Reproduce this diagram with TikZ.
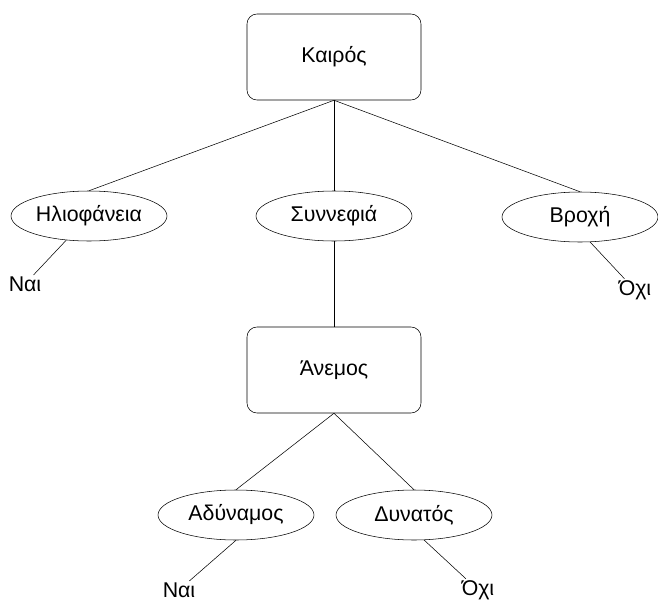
\documentclass[tikz,border=0pt]{standalone}
\usepackage{fontspec}
\setmainfont{Liberation Sans}
\usetikzlibrary{shapes.geometric}

\begin{document}
\begin{tikzpicture}[x=0.75pt, y=-0.75pt,
    every node/.style={font=\fontsize{16}{19}\selectfont},
    rootbox/.style={draw, rounded corners=7.5pt, minimum width=130.5pt,
      minimum height=64.5pt, inner sep=0pt},
    valnode/.style={draw, ellipse, minimum width=117pt,
      minimum height=37.5pt, inner sep=0pt},
    leaf/.style={inner sep=1pt}]
  \useasboundingbox (0,0) rectangle (658,600);

  % top level
  \node[rootbox] (kairos) at (334,57) {Καιρός};
  \node[valnode] (ilio) at (89,216) {Ηλιοφάνεια};
  \node[valnode] (synn) at (334,216) {Συννεφιά};
  \node[valnode] (vroxi) at (580,217) {Βροχή};
  \node[leaf] (nai1) at (25,284) {Ναι};
  \node[leaf] (oxi1) at (635,290) {Όχι};

  % second level
  \node[rootbox] (anemos) at (334,370) {Άνεμος};
  \node[valnode] (adyn) at (236,515) {Αδύναμος};
  \node[valnode] (dyn) at (414,515) {Δυνατός};
  \node[leaf] (nai2) at (179,590) {Ναι};
  \node[leaf] (oxi2) at (478,590) {Όχι};

  \draw (kairos.south) -- (ilio.north);
  \draw (kairos.south) -- (synn.north);
  \draw (kairos.south) -- (vroxi.north);
  \draw (ilio) -- (nai1);
  \draw (vroxi.292) -- (oxi1);
  \draw (synn.south) -- (anemos.north);
  \draw (anemos.south) -- (adyn.north);
  \draw (anemos.south) -- (dyn.north);
  \draw (adyn.south) -- (nai2);
  \draw (dyn.292) -- (oxi2);
\end{tikzpicture}
\end{document}
